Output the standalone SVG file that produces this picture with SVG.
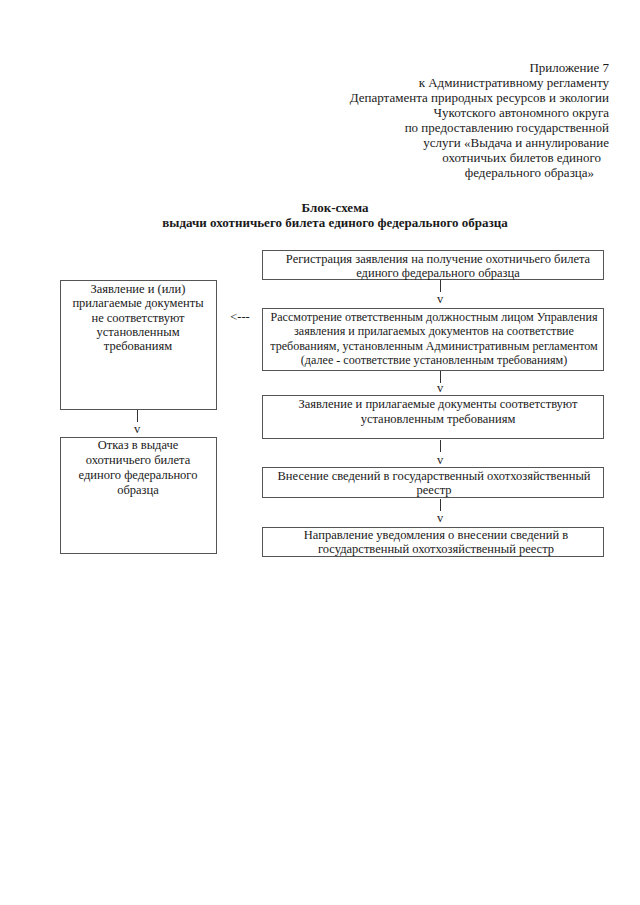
<svg xmlns="http://www.w3.org/2000/svg" width="640" height="905" viewBox="0 0 640 905">
<style>
text{font-family:"Liberation Serif","DejaVu Serif",serif;fill:#1a1a1a;font-size:12.5px}
.hdr{text-anchor:end;font-size:13px}
.ttl{text-anchor:middle;font-weight:bold;font-size:13px}
.c{text-anchor:middle}
.s{font-size:12.1px}
rect{fill:#fff;stroke:#555;stroke-width:1}
.bar{stroke:#333;stroke-width:1}
</style>
<rect x="0" y="0" width="640" height="905" style="stroke:none"/>
<g id="header">
<text class="hdr" x="609" y="72">Приложение 7</text>
<text class="hdr" x="609" y="87">к Административному регламенту</text>
<text class="hdr" x="609" y="102">Департамента природных ресурсов и экологии</text>
<text class="hdr" x="609" y="117">Чукотского автономного округа</text>
<text class="hdr" x="609" y="132">по предоставлению государственной</text>
<text class="hdr" x="609" y="147">услуги «Выдача и аннулирование</text>
<text class="hdr" x="601" y="162">охотничьих билетов единого</text>
<text class="hdr" x="594" y="177">федерального образца»</text>
</g>
<g id="title">
<text class="ttl" x="335" y="212">Блок-схема</text>
<text class="ttl" x="335" y="227">выдачи охотничьего билета единого федерального образца</text>
</g>
<g id="n1">
<rect x="262.5" y="250.5" width="341" height="29"/>
<text class="c" x="438" y="263">Регистрация заявления на получение охотничьего билета</text>
<text class="c" x="438" y="277">единого федерального образца</text>
</g>
<g id="n2">
<rect x="262.5" y="308.5" width="341" height="62"/>
<text class="c s" x="434" y="321">Рассмотрение ответственным должностным лицом Управления</text>
<text class="c s" x="434" y="335">заявления и прилагаемых документов на соответствие</text>
<text class="c s" x="434" y="350">требованиям, установленным Административным регламентом</text>
<text class="c s" x="434" y="364">(далее - соответствие установленным требованиям)</text>
</g>
<g id="n3">
<rect x="262.5" y="395.5" width="341" height="43"/>
<text class="c" x="438" y="408">Заявление и прилагаемые документы соответствуют</text>
<text class="c" x="438" y="423">установленным требованиям</text>
</g>
<g id="n4">
<rect x="262.5" y="467.5" width="341" height="30"/>
<text class="c" x="434" y="480">Внесение сведений в государственный охотхозяйственный</text>
<text class="c" x="434" y="494">реестр</text>
</g>
<g id="n5">
<rect x="262.5" y="527.5" width="341" height="29"/>
<text class="c" x="436" y="539">Направление уведомления о внесении сведений в</text>
<text class="c" x="436" y="553">государственный охотхозяйственный реестр</text>
</g>
<g id="nA">
<rect x="60.5" y="280.5" width="156" height="129"/>
<text class="c" x="138" y="293">Заявление и (или)</text>
<text class="c" x="138" y="307">прилагаемые документы</text>
<text class="c" x="138" y="322">не соответствуют</text>
<text class="c" x="138" y="336">установленным</text>
<text class="c" x="138" y="350">требованиям</text>
</g>
<g id="nB">
<rect x="60.5" y="437.5" width="156" height="116"/>
<text class="c" x="138" y="449">Отказ в выдаче</text>
<text class="c" x="138" y="464">охотничьего билета</text>
<text class="c" x="138" y="479">единого федерального</text>
<text class="c" x="138" y="494">образца</text>
</g>
<g id="connectors">
<line class="bar" x1="440.5" y1="280" x2="440.5" y2="292"/>
<text class="c" x="440" y="303">v</text>
<line class="bar" x1="440.5" y1="371" x2="440.5" y2="383"/>
<text class="c" x="440" y="392">v</text>
<line class="bar" x1="440.5" y1="440" x2="440.5" y2="452"/>
<text class="c" x="440" y="464">v</text>
<line class="bar" x1="440.5" y1="499" x2="440.5" y2="511"/>
<text class="c" x="440" y="522">v</text>
<line class="bar" x1="137.5" y1="410" x2="137.5" y2="422"/>
<text class="c" x="137" y="433">v</text>
<text class="c" x="240" y="321">&lt;---</text>
</g>
</svg>
